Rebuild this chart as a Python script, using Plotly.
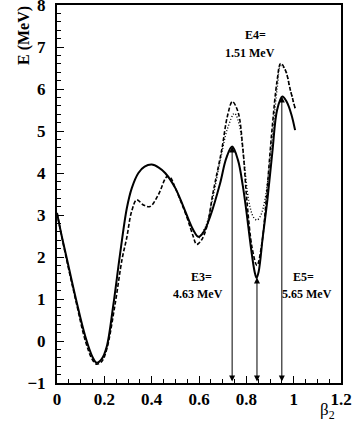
import plotly.graph_objects as go

# Solid curve
solid_x = [0, 0.02, 0.04, 0.08, 0.12, 0.15, 0.168, 0.19, 0.21, 0.238, 0.266, 0.295, 0.316, 0.344,
           0.37, 0.40, 0.43, 0.457, 0.50, 0.534, 0.576, 0.598, 0.62, 0.647, 0.689, 0.715, 0.74,
           0.765, 0.785, 0.80, 0.82, 0.835, 0.843, 0.852, 0.87, 0.889, 0.91, 0.93, 0.952, 0.97, 0.99, 1.006]
solid_y = [3.05, 2.5, 2.0, 1.0, 0.1, -0.38, -0.52, -0.42, -0.14, 0.86, 2.05, 3.16, 3.64, 4.0,
           4.15, 4.2, 4.13, 4.0, 3.64, 3.2, 2.64, 2.48, 2.6, 2.96, 3.75, 4.35, 4.63,
           4.3, 3.7, 3.1, 2.2, 1.65, 1.5, 1.65, 2.5, 3.36, 4.5, 5.5, 5.82, 5.7, 5.4, 5.02]

# Dashed curve
dash_x = [0, 0.04, 0.08, 0.12, 0.15, 0.167, 0.19, 0.21, 0.245, 0.275, 0.294, 0.316, 0.337, 0.365,
          0.393, 0.428, 0.464, 0.478, 0.50, 0.548, 0.575, 0.59, 0.61, 0.633, 0.66, 0.696, 0.72,
          0.741, 0.765, 0.785, 0.802, 0.825, 0.845, 0.865, 0.884, 0.908, 0.93, 0.945, 0.965, 0.985, 1.006]
dash_y = [3.05, 1.95, 0.95, 0.0, -0.45, -0.55, -0.48, -0.2, 0.86, 1.95, 2.44, 3.1, 3.36, 3.24,
          3.2, 3.48, 3.91, 3.9, 3.64, 2.96, 2.5, 2.3, 2.4, 2.72, 3.55, 4.55, 5.35,
          5.70, 5.45, 4.6, 3.36, 2.2, 1.8, 2.3, 3.36, 5.0, 6.2, 6.61, 6.45, 6.0, 5.54]

# Dotted curve
dot_x = [0.60, 0.63, 0.66, 0.69, 0.72, 0.75, 0.77, 0.79, 0.81, 0.83, 0.845, 0.86, 0.88, 0.90,
         0.93, 0.945, 0.965, 0.985, 1.006]
dot_y = [2.45, 2.75, 3.45, 4.3, 5.05, 5.42, 5.15, 4.3, 3.35, 2.95, 2.88, 2.98, 3.4, 4.3,
         6.0, 6.55, 6.45, 6.0, 5.54]

# Transition arrows
arrow_x = [0.74, 0.845, 0.95]
arrow_top = [4.63, 1.51, 5.82]
arrow_bottom = -1

# Labels
label_names = ["E3=", "E4=", "E5="]
label_values = ["4.63 MeV", "1.51 MeV", "5.65 MeV"]
label_name_pos = [(0.612, 1.52), (0.837, 7.29), (1.041, 1.52)]
label_value_pos = [(0.596, 1.12), (0.816, 6.86), (1.056, 1.12)]

FONT = "Liberation Serif, Times New Roman, serif"

fig = go.Figure()
fig.add_trace(go.Scatter(x=dot_x, y=dot_y, mode="lines",
                         line=dict(color="black", width=1.4, dash="1px,2px", shape="spline")))
fig.add_trace(go.Scatter(x=dash_x, y=dash_y, mode="lines",
                         line=dict(color="black", width=1.6, dash="4px,2px", shape="spline")))
fig.add_trace(go.Scatter(x=solid_x, y=solid_y, mode="lines",
                         line=dict(color="black", width=2, shape="spline")))

annotations = []
for xa, yt in zip(arrow_x, arrow_top):
    annotations.append(dict(x=xa, y=yt, ax=xa, ay=arrow_bottom, xref="x", yref="y",
                            axref="x", ayref="y", text="", showarrow=True,
                            arrowhead=2, arrowside="end+start", arrowsize=1.2,
                            arrowwidth=1, arrowcolor="black"))
for name, (nx, ny) in zip(label_names, label_name_pos):
    annotations.append(dict(x=nx, y=ny, xref="x", yref="y", text="<b>%s</b>" % name,
                            xanchor="center", yanchor="middle",
                            showarrow=False, font=dict(family=FONT, size=12, color="black")))
for val, (vx, vy) in zip(label_values, label_value_pos):
    annotations.append(dict(x=vx, y=vy, xref="x", yref="y", text="<b>%s</b>" % val,
                            xanchor="center", yanchor="middle",
                            showarrow=False, font=dict(family=FONT, size=12, color="black")))
annotations.append(dict(x=1.142, y=-0.075, xref="x", yref="paper", text="β<sub>2</sub>",
                        xanchor="center", yanchor="middle",
                        showarrow=False, font=dict(family=FONT, size=17, color="black")))
annotations.append(dict(x=-0.117, y=0.92, xref="paper", yref="paper", text="<b>E (MeV)</b>",
                        xanchor="center", yanchor="middle",
                        textangle=-90, showarrow=False,
                        font=dict(family=FONT, size=16, color="black")))

fig.update_layout(
    width=353, height=423,
    margin=dict(l=57, r=12, t=5, b=40, autoexpand=False),
    paper_bgcolor="white", plot_bgcolor="white",
    showlegend=False,
    annotations=annotations,
    font=dict(family=FONT, color="black"),
)
fig.update_xaxes(range=[0, 1.2], dtick=0.2, tick0=0, ticks="inside", ticklen=7, tickwidth=1,
                 tickcolor="black", showline=True, linecolor="black", linewidth=2, mirror=True,
                 showgrid=False, zeroline=False, automargin=False, ticklabeloverflow="allow",
                 tickfont=dict(family=FONT, size=17, color="black", weight="bold"),
                 minor=dict(dtick=0.05, ticks="inside", ticklen=4, tickcolor="black", showgrid=False))
fig.update_yaxes(range=[-1, 8], dtick=1, tick0=0, ticks="inside", ticklen=7, tickwidth=1,
                 tickcolor="black", showline=True, linecolor="black", linewidth=2, mirror=True,
                 showgrid=False, zeroline=False, ticklabelstandoff=6, automargin=False,
                 ticklabeloverflow="allow",
                 tickfont=dict(family=FONT, size=17, color="black", weight="bold"),
                 minor=dict(dtick=0.2, ticks="inside", ticklen=4, tickcolor="black", showgrid=False))

fig.write_html("out.html", config={"displayModeBar": False},
               post_script="document.body.style.margin='0';document.body.style.padding='0';")
